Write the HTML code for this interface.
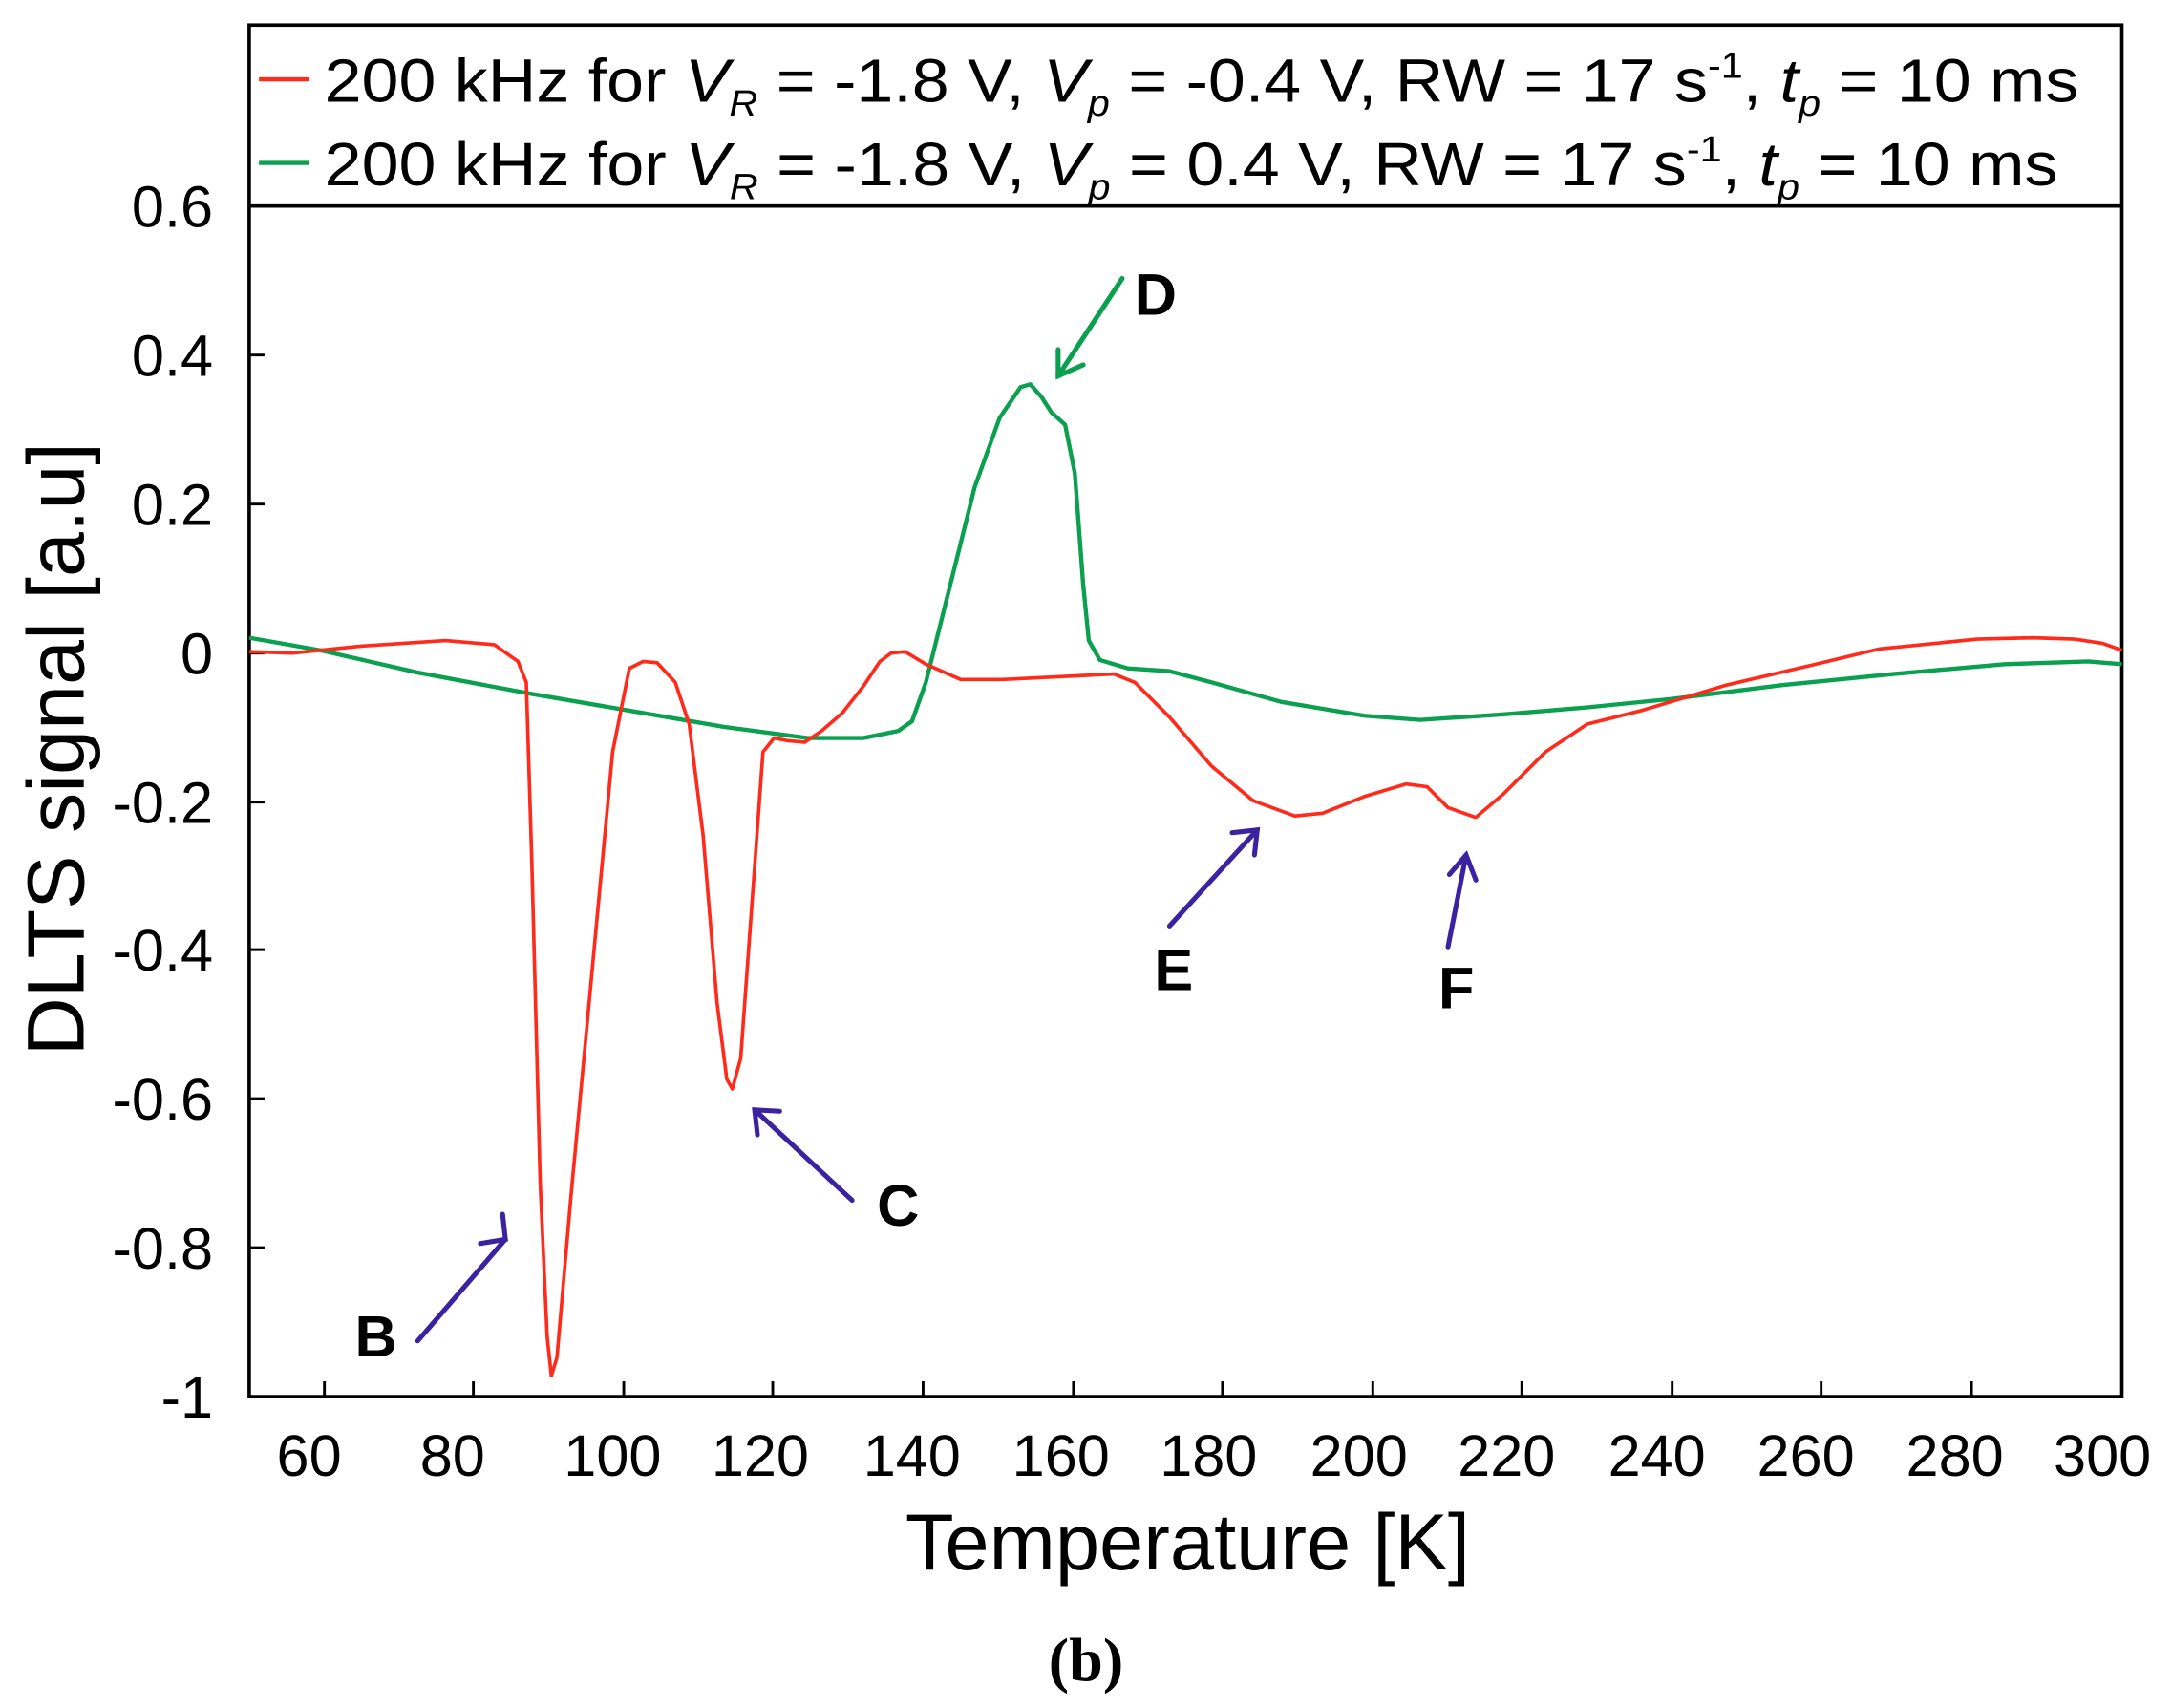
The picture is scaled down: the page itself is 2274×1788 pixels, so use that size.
<!DOCTYPE html>
<html><head><meta charset="utf-8"><style>html,body{margin:0;padding:0;background:#fff}svg{display:block}</style></head><body>
<svg width="2274" height="1788" viewBox="0 0 1560 1226.6" preserveAspectRatio="none" xmlns="http://www.w3.org/2000/svg" font-family="Liberation Sans, sans-serif">
<rect x="0" y="0" width="1560" height="1227" fill="#fff"/>
<rect x="179" y="18" width="1345" height="985" fill="none" stroke="#000" stroke-width="2.5"/>
<line x1="179" y1="148" x2="1524" y2="148" stroke="#000" stroke-width="2.5"/>
<g stroke="#000" stroke-width="2">
<line x1="179" y1="255" x2="190" y2="255"/><line x1="179" y1="362" x2="190" y2="362"/><line x1="179" y1="469" x2="190" y2="469"/><line x1="179" y1="576" x2="190" y2="576"/><line x1="179" y1="682" x2="190" y2="682"/><line x1="179" y1="789" x2="190" y2="789"/><line x1="179" y1="896" x2="190" y2="896"/>
<line x1="233" y1="1003" x2="233" y2="992"/><line x1="340" y1="1003" x2="340" y2="992"/><line x1="448" y1="1003" x2="448" y2="992"/><line x1="555" y1="1003" x2="555" y2="992"/><line x1="663" y1="1003" x2="663" y2="992"/><line x1="771" y1="1003" x2="771" y2="992"/><line x1="878" y1="1003" x2="878" y2="992"/><line x1="986" y1="1003" x2="986" y2="992"/><line x1="1093" y1="1003" x2="1093" y2="992"/><line x1="1201" y1="1003" x2="1201" y2="992"/><line x1="1308" y1="1003" x2="1308" y2="992"/><line x1="1416" y1="1003" x2="1416" y2="992"/>
</g>
<g font-size="42" text-anchor="end" fill="#000">
<text x="153" y="163">0.6</text><text x="153" y="270">0.4</text><text x="153" y="377">0.2</text><text x="153" y="484">0</text><text x="153" y="591">-0.2</text><text x="153" y="697">-0.4</text><text x="153" y="804">-0.6</text><text x="153" y="911">-0.8</text><text x="153" y="1018">-1</text>
</g>
<g font-size="42" text-anchor="middle" fill="#000">
<text x="222" y="1060">60</text><text x="325" y="1060">80</text><text x="440" y="1060">100</text><text x="546" y="1060">120</text><text x="655" y="1060">140</text><text x="762" y="1060">160</text><text x="868" y="1060">180</text><text x="976" y="1060">200</text><text x="1082" y="1060">220</text><text x="1190" y="1060">240</text><text x="1297" y="1060">260</text><text x="1404" y="1060">280</text><text x="1510" y="1060">300</text>
</g>
<text x="853" y="1127" font-size="57" text-anchor="middle">Temperature [K]</text>
<text transform="translate(60,538) rotate(-90)" font-size="58" text-anchor="middle">DLTS signal [a.u]</text>
<text x="780" y="1207" font-size="44" font-weight="bold" font-family="Liberation Serif, serif" text-anchor="middle">(b)</text>
<line x1="186" y1="57" x2="222" y2="57" stroke="#ff2a1a" stroke-width="3"/>
<line x1="186" y1="117" x2="222" y2="117" stroke="#0aa050" stroke-width="3"/>
<text x="233" y="73" font-size="44" textLength="1260" lengthAdjust="spacingAndGlyphs">200 kHz for <tspan font-style="italic">V</tspan><tspan font-size="26" font-style="italic" dy="10">R</tspan><tspan dy="-10"> = -1.8 V, </tspan><tspan font-style="italic">V</tspan><tspan font-size="26" font-style="italic" dy="10">p</tspan><tspan dy="-10"> = -0.4 V, RW = 17 s</tspan><tspan font-size="26" dy="-17">-1</tspan><tspan dy="17">, </tspan><tspan font-style="italic">t</tspan><tspan font-size="26" font-style="italic" dy="10">p</tspan><tspan dy="-10"> = 10 ms</tspan></text>
<text x="233" y="133" font-size="44" textLength="1245" lengthAdjust="spacingAndGlyphs">200 kHz for <tspan font-style="italic">V</tspan><tspan font-size="26" font-style="italic" dy="10">R</tspan><tspan dy="-10"> = -1.8 V, </tspan><tspan font-style="italic">V</tspan><tspan font-size="26" font-style="italic" dy="10">p</tspan><tspan dy="-10"> = 0.4 V, RW = 17 s</tspan><tspan font-size="26" dy="-17">-1</tspan><tspan dy="17">, </tspan><tspan font-style="italic">t</tspan><tspan font-size="26" font-style="italic" dy="10">p</tspan><tspan dy="-10"> = 10 ms</tspan></text>
<polyline fill="none" stroke="#0aa050" stroke-width="3" stroke-linejoin="round" points="179,458 230,467 300,483 380,498 450,510 520,522 580,530 620,530 645,525 655,518 665,490 680,430 700,350 718,300 733,278 740,276 748,285 755,296 765,305 772,340 778,420 782,460 790,474 810,480 840,482 870,490 920,504 980,514 1020,517 1080,513 1140,508 1200,502 1280,492 1360,484 1440,477 1500,475 1524,477"/>
<polyline fill="none" stroke="#ff2a1a" stroke-width="2.5" stroke-linejoin="round" points="179,468 210,469 260,464 320,460 355,463 372,475 378,490 382,620 388,850 393,960 396,988 400,975 410,860 425,700 440,540 452,480 462,475 472,476 485,490 495,520 505,600 515,720 522,775 526,782 532,760 540,650 548,540 556,530 566,532 578,533 590,525 605,512 620,493 632,475 640,469 650,468 665,477 690,488 720,488 760,486 800,484 815,490 840,515 870,550 900,575 930,586 950,584 980,572 1010,563 1025,565 1040,580 1060,587 1080,570 1110,540 1140,520 1180,510 1240,492 1300,478 1350,466 1420,459 1460,458 1490,459 1510,462 1524,467"/>
<g stroke="#3b22a0" stroke-width="3.5" fill="none" stroke-linecap="round">
<line x1="300" y1="963" x2="363" y2="890"/><polyline points="345,893 363,890 361,872"/>
<line x1="612" y1="862" x2="542" y2="797"/><polyline points="544,815 542,797 560,798"/>
<line x1="840" y1="665" x2="903" y2="596"/><polyline points="885,598 903,596 901,614"/>
<line x1="1040" y1="680" x2="1053" y2="614"/><polyline points="1041,628 1053,614 1060,632"/>
</g>
<g stroke="#0aa050" stroke-width="3.5" fill="none" stroke-linecap="round">
<line x1="806" y1="200" x2="760" y2="270"/><polyline points="760,251 760,270 778,262"/>
</g>
<g font-size="42" font-weight="bold" text-anchor="middle" fill="#000">
<text x="270" y="974">B</text><text x="645" y="880">C</text><text x="830" y="226">D</text><text x="843" y="711">E</text><text x="1046" y="724">F</text>
</g>
</svg>
</body></html>
